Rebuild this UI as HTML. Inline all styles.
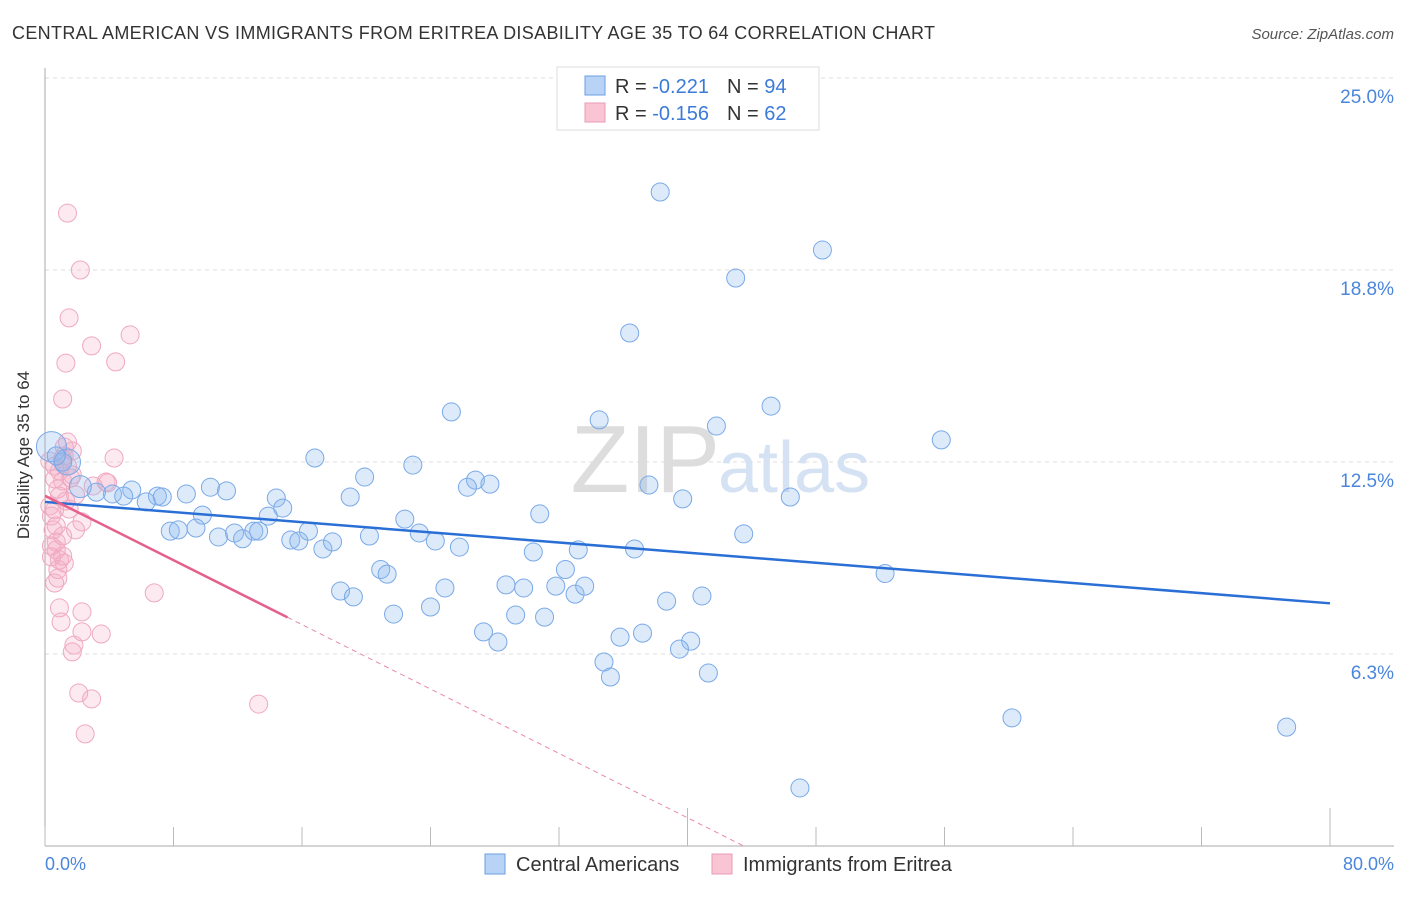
<!DOCTYPE html>
<html><head><meta charset="utf-8"><style>
body{margin:0;background:#fff;font-family:"Liberation Sans",sans-serif;}
svg text{font-family:"Liberation Sans",sans-serif;}
</style></head><body>
<svg width="1406" height="892" viewBox="0 0 1406 892">
<text x="12" y="39" font-size="18" fill="#333" textLength="923" lengthAdjust="spacing">CENTRAL AMERICAN VS IMMIGRANTS FROM ERITREA DISABILITY AGE 35 TO 64 CORRELATION CHART</text>
<text x="1394" y="39" font-size="15" fill="#555" font-style="italic" text-anchor="end">Source: ZipAtlas.com</text>
<g id="grid"></g>
<text x="720" y="492" font-size="96" fill="#ddd" text-anchor="end" font-family="Liberation Serif">ZIP</text>
<text x="718" y="492" font-size="72" fill="#d5e2f3">atlas</text>
<line x1="45" y1="68" x2="45" y2="846" stroke="#aaa"/>
<line x1="45" y1="846" x2="1394" y2="846" stroke="#aaa"/>
<g id="ticks"></g>
<g id="ylabels"></g>
<text x="29" y="455" font-size="17" fill="#333" text-anchor="middle" transform="rotate(-90 29 455)">Disability Age 35 to 64</text>
<text x="45" y="870" font-size="18" fill="#4a86dc">0.0%</text>
<text x="1394" y="870" font-size="18" fill="#4a86dc" text-anchor="end">80.0%</text>
<g id="pink"></g>
<g id="blue"></g>
<g id="trends"></g>
<g>
<rect x="557" y="67" width="262" height="63" fill="#fff" stroke="#ddd"/>
<rect x="585" y="76" width="20" height="19" fill="#b8d3f5" stroke="#6a9fe3"/>
<rect x="585" y="103" width="20" height="19" fill="#f9c5d5" stroke="#ea9bb5"/>
<text x="615" y="93" font-size="20" fill="#333">R = <tspan fill="#3b7bd8">-0.221</tspan><tspan dx="18">N = </tspan><tspan fill="#3b7bd8">94</tspan></text>
<text x="615" y="120" font-size="20" fill="#333">R = <tspan fill="#3b7bd8">-0.156</tspan><tspan dx="18">N = </tspan><tspan fill="#3b7bd8">62</tspan></text>
</g>
<g>
<rect x="485" y="854" width="20" height="20" fill="#b8d3f5" stroke="#6a9fe3"/>
<text x="516" y="871" font-size="20" fill="#333">Central Americans</text>
<text x="743" y="871" font-size="20" fill="#333">Immigrants from Eritrea</text>
<rect x="712" y="854" width="20" height="20" fill="#f9c5d5" stroke="#ea9bb5"/>
</g>
</svg>
<script>
const yTicks=[6.25,12.5,18.75,25];
const yTickLabels=["6.3%","12.5%","18.8%","25.0%"];
const blueX=[38.3,48.4,43,36.4,45.2,25.3,34.5,41.8,55.8,16.8,22.9,26.8,27.7,26.3,37.6,19.9,10.3,8.8,11.3,5.4,4.2,4.9,3.2,7,7.3,14.4,19,39.7,46.4,14.8,6.3,9.8,13.9,22.4,30.8,7.8,8.3,9.4,10.8,11.8,12.3,13,13.3,15.3,15.8,16.4,17.3,17.9,20.2,23.3,24.3,25.8,30.4,33.2,36.7,43.5,20.9,21.3,32.4,52.3,18.4,19.2,24.9,28.7,29.8,31.8,33,33.6,38.7,40.9,21.7,24,29.3,31.1,27.3,28.2,35.8,37.2,40.2,39.5,34.8,35.2,41.3,60.2,77.3,47,0.4,1.4,2.2,1.1,0.7];
const blueY=[21.29,19.4,18.49,16.7,14.32,14.13,13.87,13.67,13.22,12.63,12.4,11.91,11.78,11.68,11.75,12.01,11.68,11.46,11.56,11.59,11.46,11.39,11.52,11.39,11.36,11.33,11.36,11.3,11.36,11.0,11.2,10.77,10.74,10.64,10.81,10.25,10.29,10.35,10.06,10.19,10.0,10.25,10.25,9.96,9.93,10.25,9.67,9.9,10.09,10.19,9.93,9.73,9.57,9.64,9.67,10.16,9.0,8.85,9.0,8.87,8.3,8.11,8.4,8.5,8.4,8.46,8.2,8.46,7.97,8.14,7.55,7.78,7.52,7.45,6.97,6.64,6.8,6.93,6.67,6.41,5.99,5.5,5.63,4.17,3.87,1.89,13.0,12.5,11.7,12.5,12.7];
const blueR=[9,9,9,9,9,9,9,9,9,9,9,9,9,9,9,9,9,9,9,9,9,9,9,9,9,9,9,9,9,9,9,9,9,9,9,9,9,9,9,9,9,9,9,9,9,9,9,9,9,9,9,9,9,9,9,9,9,9,9,9,9,9,9,9,9,9,9,9,9,9,9,9,9,9,9,9,9,9,9,9,9,9,9,9,9,9,15,13,11,9,9];
const pinkX=[1.4,2.2,1.5,5.3,2.9,4.4,1.3,1.1,1.2,1.4,4.3,3.9,3.8,3,1.9,2.3,1.9,0.6,0.5,0.7,0.9,1.2,1.1,0.8,0.6,0.7,0.4,6.8,0.9,2.3,1,2.3,3.5,1.8,1.7,2.1,2.9,13.3,2.5,0.9,1.1,0.6,0.3,1.4,1.1,1.6,1.7,0.8,0.9,1.3,0.3,0.4,0.7,1.1,0.4,1.2,1.7,0.6,1.5,0.8];
const pinkY=[20.6,18.75,17.19,16.64,16.28,15.76,15.72,14.55,12.99,13.15,12.63,11.82,11.85,11.72,11.43,10.55,10.29,10.94,10.29,9.64,9.31,9.21,9.44,8.72,8.56,9.9,9.41,8.24,7.75,7.62,7.29,6.97,6.9,6.54,6.32,4.98,4.79,4.62,3.65,12.21,11.88,12.37,12.53,12.37,12.6,11.98,12.86,11.62,11.39,11.23,11.07,10.74,10.42,10.09,9.77,12.7,12.08,11.95,10.97,9.0];
const blueTrend=[11.2,7.9];
const pinkTrend=[11.4,0];
const px=v=>45+v*16.0625, py=v=>846-v*30.72;
const NS="http://www.w3.org/2000/svg";
function mk(t,a,p){const e=document.createElementNS(NS,t);for(const k in a)e.setAttribute(k,a[k]);p.appendChild(e);return e;}
const grid=document.getElementById('grid');
yTicks.forEach((t,i)=>{
 const l=mk('line',{x1:45,x2:1394,y1:py(t),y2:py(t),stroke:'#ddd','stroke-dasharray':'4 4'},grid);
 
 
 const tx=mk('text',{x:1394,y:py(t)+25,'font-size':19,fill:'#4a86dc','text-anchor':'end'},document.getElementById('ylabels'));
 tx.textContent=yTickLabels[i];
 
 
});
for(let i=0;i<=10;i++){
 const x=px(i*8);const big=(i==5||i==10);
 const l=mk('line',{x1:x,x2:x,y1:big?808:827,y2:846,stroke:'#bbb'},document.getElementById('ticks'));
 
 
}
const pg=document.getElementById('pink');
pinkX.forEach((x,i)=>{const c=mk('circle',{cx:px(x),cy:py(pinkY[i]),r:9,fill:'rgba(245,170,195,0.25)',stroke:'#efa9c0','stroke-width':1},pg);
 
 });
const bg=document.getElementById('blue');
blueX.forEach((x,i)=>{const c=mk('circle',{cx:px(x),cy:py(blueY[i]),r:blueR[i],fill:'rgba(140,185,240,0.3)',stroke:'#7aa9e8','stroke-width':1},bg);
 
 });
const tg=document.getElementById('trends');
const bt=mk('line',{x1:px(0),y1:py(blueTrend[0]),x2:px(80),y2:py(blueTrend[1]),stroke:'#2a6fd6','stroke-width':2.5},tg);


const slope=(pinkTrend[1]-pinkTrend[0])/43.5;
const xs=15.1, xe=43.5;
const pt=mk('line',{x1:px(0),y1:py(pinkTrend[0]),x2:px(xs),y2:py(pinkTrend[0]+slope*xs),stroke:'#e5608a','stroke-width':2.5},tg);


const pd=mk('line',{x1:px(xs),y1:py(pinkTrend[0]+slope*xs),x2:px(xe),y2:py(pinkTrend[1]),stroke:'#e88aa8','stroke-width':1,'stroke-dasharray':'5 4'},tg);


</script>
</body></html>
